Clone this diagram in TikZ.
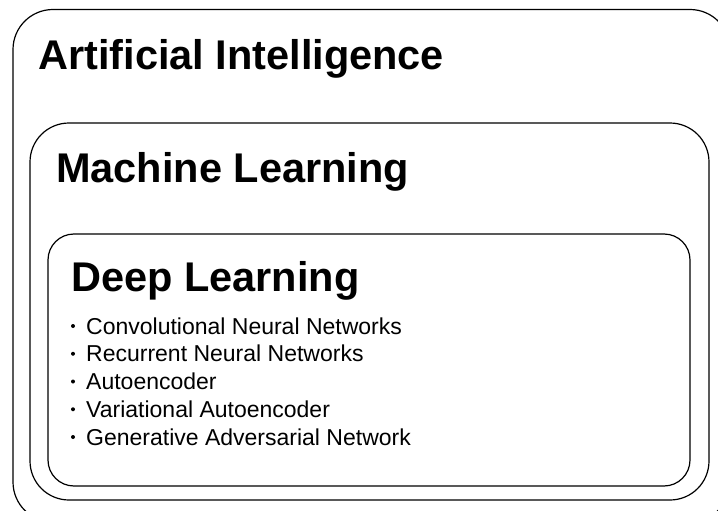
\documentclass[tikz,border=0pt]{standalone}
\usepackage{fontspec}
\setmainfont{Liberation Sans}
\begin{document}
\begin{tikzpicture}[x=1pt,y=-1pt,
  box/.style={draw=black,line width=1.2pt},
  title/.style={anchor=base west,inner sep=0pt,font=\fontsize{41.5}{48}\selectfont\bfseries},
  item/.style={anchor=base west,inner sep=0pt,font=\fontsize{23}{27}\selectfont},
  bul/.style={circle,fill=black,inner sep=0pt,minimum size=4pt}]
\useasboundingbox (0,0) rectangle (718,511);
\draw[box,rounded corners=40pt] (13,9.5) rectangle (730,522);
\draw[box,rounded corners=39pt] (30,123) rectangle (709,500);
\draw[box,rounded corners=26pt] (48,234) rectangle (690,486);
\node[title] (ai) at (38,70) {Artificial Intelligence};
\node[title] (ml) at (56,182) {Machine Learning};
\node[title] (dl) at (71,291) {Deep Learning};
\foreach \t [count=\i] in {Convolutional Neural Networks,Recurrent Neural Networks,Autoencoder,Variational Autoencoder,Generative Adversarial Network}{
  \node[bul] (b\i) at (73,{334+27.75*(\i-1)-8}) {};
  \node[item] (t\i) at (86,{334+27.75*(\i-1)}) {\t};
}
\end{tikzpicture}
\end{document}
